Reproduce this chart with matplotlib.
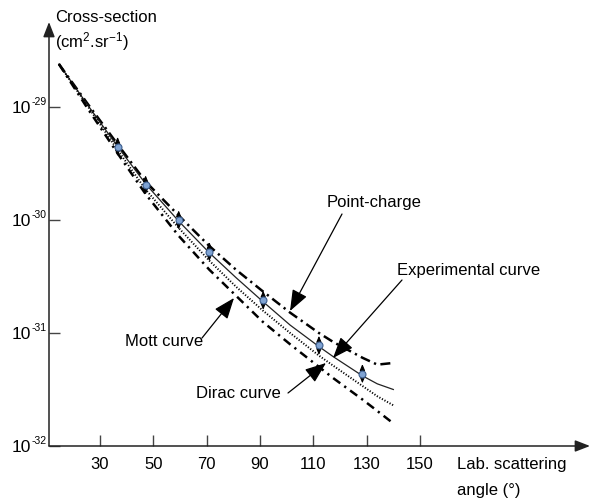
import numpy as np
import matplotlib
matplotlib.use("Agg")
import matplotlib.pyplot as plt

# ---------------- data ----------------
# angles (deg) and log10(cross-section / cm^2 sr^-1)
curve_angles = [14.6, 25.0, 36.6, 47.1, 59.5, 71.0, 81.0, 91.0, 101.3, 112.1, 117.5, 128.5, 134.0, 140.0]
point_charge_log = [-28.62, -28.96, -29.33, -29.66, -29.96, -30.23, -30.44, -30.63, -30.82, -31.00, -31.08, -31.22, -31.28, -31.265]
experimental_log = [-28.62, -28.97, -29.35, -29.68, -30.01, -30.29, -30.51, -30.72, -30.93, -31.12, -31.21, -31.38, -31.45, -31.50]
dirac_log = [-28.62, -28.98, -29.38, -29.73, -30.07, -30.36, -30.59, -30.80, -31.00, -31.20, -31.29, -31.47, -31.56, -31.64]
mott_log = [-28.62, -29.00, -29.41, -29.77, -30.14, -30.44, -30.67, -30.90, -31.10, -31.30, -31.40, -31.59, -31.69, -31.80]

meas_angles = [36.6, 47.1, 59.5, 71.0, 91.2, 112.1, 128.4]
meas_log = [-29.35, -29.69, -30.00, -30.28, -30.71, -31.11, -31.36]
meas_err = 0.085

x_ticks = [30, 50, 70, 90, 110, 130, 150]
y_exps = [-32, -31, -30, -29]

# ---------------- fonts ----------------
fam = "Liberation Sans"
plt.rcParams["font.family"] = [fam, "DejaVu Sans"]
plt.rcParams["mathtext.fontset"] = "custom"
plt.rcParams["mathtext.rm"] = fam
plt.rcParams["mathtext.default"] = "regular"
FS = 12

W, H = 592, 504
fig = plt.figure(figsize=(W / 100, H / 100), dpi=100)
x0, y0, x1, y1 = 49, 446, 590, 22
ax = fig.add_axes([x0 / W, (H - y0) / H, (x1 - x0) / W, (y0 - y1) / H])
ax.set_yscale("log")
ax.set_xlim(10.875, 213.75)
ax.set_ylim(1e-32, 10 ** (-32 + (y0 - y1) / 113.0))
for s in ax.spines.values():
    s.set_visible(False)

axis_col = "#444444"
for tip in [(1, 0), (0, 1)]:
    ax.annotate("", xy=tip, xytext=(0, 0), xycoords="axes fraction",
                arrowprops=dict(arrowstyle="-|>,head_length=0.9,head_width=0.35",
                                color="#222222", lw=1.1, mutation_scale=10,
                                shrinkA=0, shrinkB=0))

ax.set_xticks(x_ticks)
ax.set_xticklabels([str(v) for v in x_ticks], fontsize=FS)
ax.set_yticks([10.0 ** e for e in y_exps])
ax.set_yticklabels([])
ax.yaxis.set_minor_locator(matplotlib.ticker.NullLocator())
ax.tick_params(axis="x", direction="in", length=8, width=1, color=axis_col, pad=8)
ax.tick_params(axis="y", direction="in", length=8, width=1, color=axis_col)

# y tick labels: "10" with a small raised exponent
for e in y_exps:
    ax.annotate("10", xy=(0, 10.0 ** e), xycoords=("axes fraction", "data"),
                xytext=(-13, -1), textcoords="offset points", ha="right", va="center",
                fontsize=12.5)
    ax.annotate("%d" % e, xy=(0, 10.0 ** e), xycoords=("axes fraction", "data"),
                xytext=(-12.5, 3.5), textcoords="offset points", ha="left", va="center",
                fontsize=7.5)

ca = np.array(curve_angles)
ax.plot(ca, 10 ** np.array(point_charge_log), color="black", lw=1.8,
        linestyle=(0, (4, 1.8, 0.9, 1.8)), zorder=3)
ax.plot(ca, 10 ** np.array(experimental_log), color="#222222", lw=0.9, zorder=3)
ax.plot(ca, 10 ** np.array(dirac_log), color="black", lw=1.4,
        linestyle=(0, (0.6, 0.9)), zorder=3)
ax.plot(ca, 10 ** np.array(mott_log), color="black", lw=1.8,
        linestyle=(0, (3.5, 2.0, 0.9, 2.0)), zorder=3)

for a, l in zip(meas_angles, meas_log):
    ax.annotate("", xy=(a, 10 ** (l + meas_err)), xytext=(a, 10 ** (l - meas_err)),
                arrowprops=dict(arrowstyle="<|-|>,head_length=0.6,head_width=0.25",
                                color="black", lw=0.8, mutation_scale=6,
                                shrinkA=0, shrinkB=0), zorder=4)
ax.plot(meas_angles, 10 ** np.array(meas_log), "o", ms=5, mfc="#7fa3d3",
        mec="#3b5c8c", mew=0.8, zorder=6)

# annotations with arrows
arr = dict(arrowstyle="-|>,head_length=1.3,head_width=0.5", color="black", lw=0.9,
           mutation_scale=10, shrinkA=0, shrinkB=0)
def px2data(px, py):
    return 30 + (px - 100) * 0.375, 10 ** (-32 + (446 - py) / 113.0)

ax.annotate("", xy=px2data(290, 311), xytext=px2data(342, 214), arrowprops=arr)
ax.annotate("", xy=px2data(333, 358), xytext=px2data(402, 280), arrowprops=arr)
ax.annotate("", xy=px2data(234, 298), xytext=px2data(202, 338), arrowprops=arr)
ax.annotate("", xy=px2data(326, 363), xytext=px2data(288, 393), arrowprops=arr)

def ftext(px, py, s, **kw):
    fig.text(px / W, 1 - py / H, s, fontsize=FS, va="center", **kw)

ftext(327, 203, "Point-charge")
ftext(397, 270, "Experimental curve")
ftext(125, 341, "Mott curve")
ftext(196, 394, "Dirac curve")
ftext(55, 17, "Cross-section")
ftext(55, 42, r"(cm$^{2}$.sr$^{\mathregular{-1}}$)")
ftext(457, 465, "Lab. scattering")
ftext(457, 490, "angle (°)")

fig.savefig("out.png", dpi=100)
